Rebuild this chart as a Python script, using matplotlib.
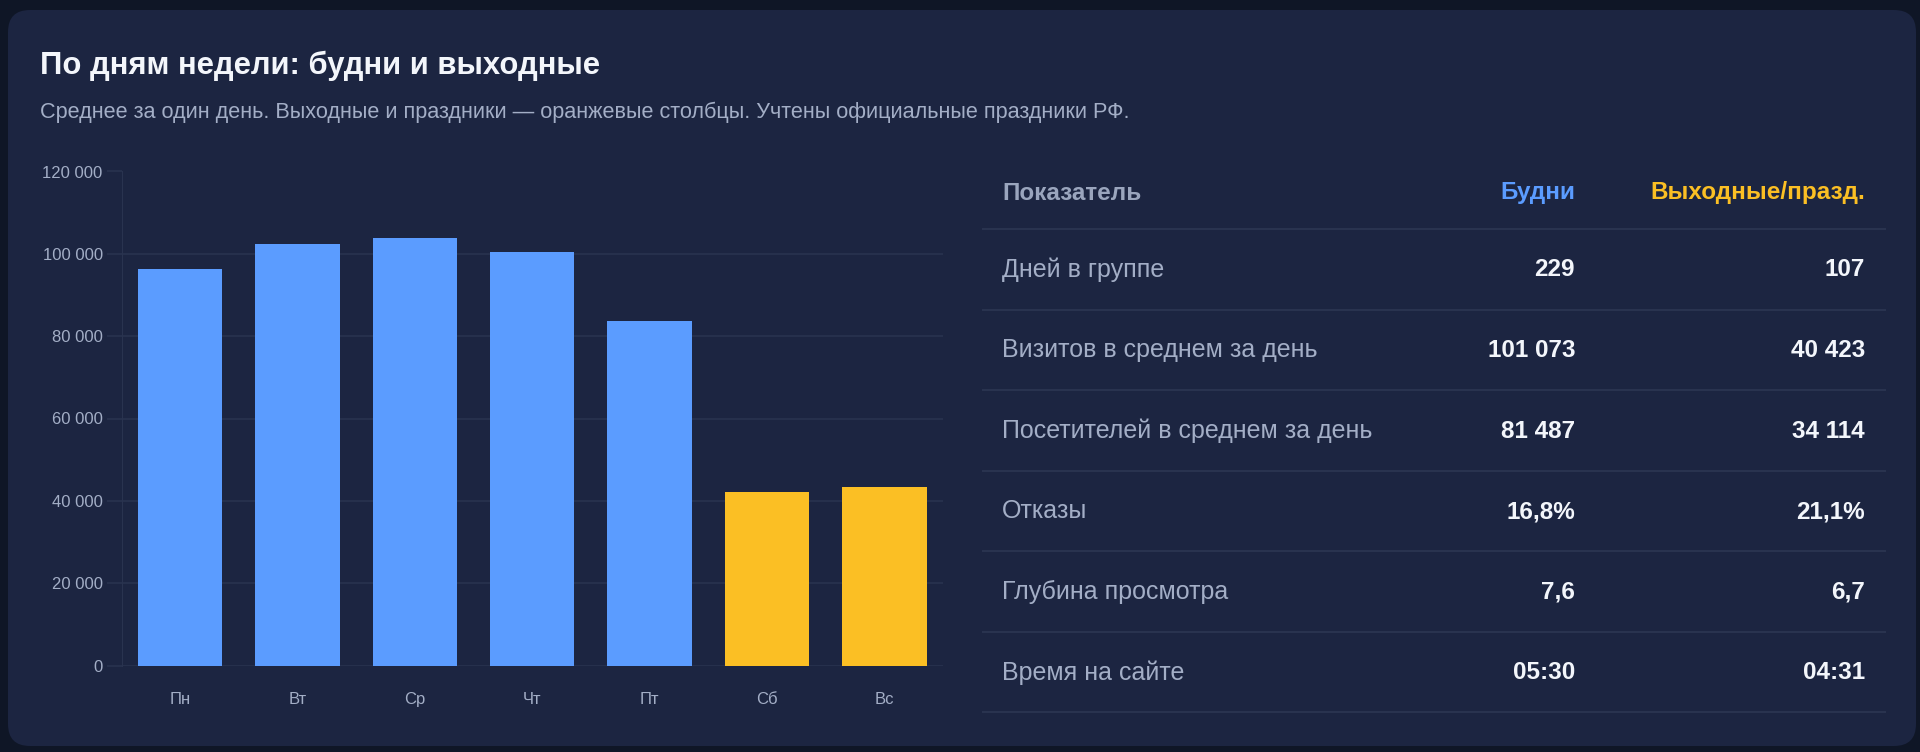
import matplotlib.pyplot as plt
from matplotlib.patches import FancyBboxPatch
from matplotlib.ticker import FuncFormatter

plt.rcParams["font.family"] = ["Liberation Sans", "DejaVu Sans"]

## Data
days = ["Пн", "Вт", "Ср", "Чт", "Пт", "Сб", "Вс"]
visits = [96300, 102350, 103800, 100400, 83650, 42100, 43250]
is_weekend = [False, False, False, False, False, True, True]

col_names = ["Показатель", "Будни", "Выходные/празд."]
row_names = [
    "Дней в группе",
    "Визитов в среднем за день",
    "Посетителей в среднем за день",
    "Отказы",
    "Глубина просмотра",
    "Время на сайте",
]
weekday_vals = ["229", "101 073", "81 487", "16,8%", "7,6", "05:30"]
weekend_vals = ["107", "40 423", "34 114", "21,1%", "6,7", "04:31"]

title = "По дням недели: будни и выходные"
subtitle = ("Среднее за один день. Выходные и праздники — оранжевые столбцы. "
            "Учтены официальные праздники РФ.")

## Colours
BG = "#0f1626"
CARD = "#1c2541"
BLUE = "#5b9cff"
YELLOW = "#fbbf24"
GRID = "#29334f"
MUTED = "#a3aec6"
WHITE = "#f3f6fb"

W, H = 1920, 752
fig = plt.figure(figsize=(W / 100, H / 100), dpi=100, facecolor=BG)

# background axes in pixel coordinates
bg = fig.add_axes([0, 0, 1, 1])
bg.set_xlim(0, W)
bg.set_ylim(H, 0)
bg.axis("off")
bg.add_patch(FancyBboxPatch((8, 10), 1908, 736, boxstyle="round,pad=0,rounding_size=22",
                            facecolor=CARD, edgecolor="none"))

bg.text(40, 66, title, fontsize=22.3, fontweight="bold", color=WHITE, va="center")
bg.text(40, 112, subtitle, fontsize=15.6, color=MUTED, va="center")

## Table
line_x0, line_x1 = 983, 1885
x_label, x_wd, x_we = 1002, 1575, 1865
header_y = 193
fs_tab = 18
bg.text(x_label, header_y, col_names[0], fontsize=17.5, fontweight="bold", color="#9aa5bd", va="center")
bg.text(x_wd, header_y, col_names[1], fontsize=17.5, fontweight="bold", color=BLUE, va="center", ha="right")
bg.text(x_we, header_y, col_names[2], fontsize=17.5, fontweight="bold", color=YELLOW, va="center", ha="right")
bg.plot([line_x0, line_x1], [229, 229], color=GRID, lw=1.5)

row_h = 80.5
for i, name in enumerate(row_names):
    yc = 229 + row_h * i + 41
    bg.text(x_label, yc, name, fontsize=fs_tab, color=MUTED, va="center")
    bg.text(x_wd, yc, weekday_vals[i], fontsize=17.5, fontweight="bold", color=WHITE, va="center", ha="right")
    bg.text(x_we, yc, weekend_vals[i], fontsize=17.5, fontweight="bold", color=WHITE, va="center", ha="right")
    yl = 229 + row_h * (i + 1)
    bg.plot([line_x0, line_x1], [yl, yl], color=GRID, lw=1.5)

## Bar chart
left, right, top, bottom = 121.5, 943, 171.5, 665.5
ax = fig.add_axes([left / W, (H - bottom) / H, (right - left) / W, (bottom - top) / H])
ax.set_facecolor("none")
colors = [YELLOW if w else BLUE for w in is_weekend]
ax.bar(range(len(days)), visits, width=0.72, color=colors, zorder=3)
ax.set_xlim(-0.5, len(days) - 0.5)
ax.set_ylim(0, 120000)
ax.set_yticks(range(0, 120001, 20000))
ax.yaxis.set_major_formatter(FuncFormatter(lambda v, p: f"{int(v):,}".replace(",", " ")))
ax.set_xticks(range(len(days)))
ax.set_xticklabels(days)
ax.grid(axis="y", color=GRID, lw=1.2, zorder=0)
for s in ["top", "right", "bottom"]:
    ax.spines[s].set_visible(False)
ax.spines["left"].set_color(GRID)
ax.tick_params(axis="y", colors=GRID, labelcolor=MUTED, labelsize=12, length=11, width=1.2, pad=2.5)
ax.tick_params(axis="x", length=0, labelcolor=MUTED, labelsize=12, pad=19)

fig.savefig("out.png", dpi=100, facecolor=BG)
